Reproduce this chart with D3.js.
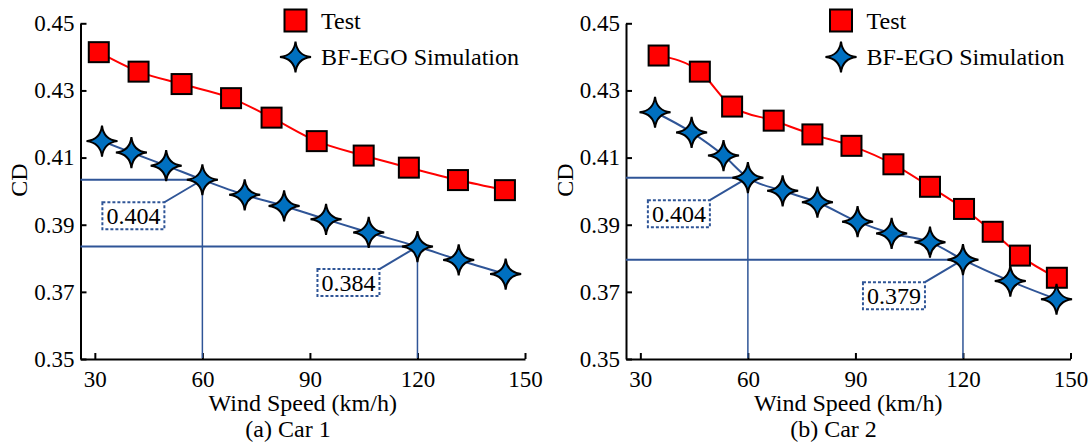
<!DOCTYPE html>
<html>
<head>
<meta charset="utf-8">
<script src="https://cdn.jsdelivr.net/npm/d3@7"></script>
<style>
  html, body { margin: 0; padding: 0; background: #fff; }
  svg { display: block; }
</style>
</head>
<body>
<svg id="chart" width="1090" height="444"></svg>
<script>
// ---------------- data ----------------
const xTicks = [30, 60, 90, 120, 150];
const yTicks = [0.35, 0.37, 0.39, 0.41, 0.43, 0.45];
const legendLabels = ["Test", "BF-EGO Simulation"];
const xTitle = "Wind Speed (km/h)";
const yTitle = "CD";
const panelTitles = ["(a) Car 1", "(b) Car 2"];

const speedTest1 = [31.1, 42.2, 54.2, 68.0, 79.3, 91.9, 105.0, 117.6, 131.3, 144.4];
const cdTest1    = [0.4414, 0.4356, 0.4319, 0.4277, 0.4219, 0.4149, 0.4106, 0.4070, 0.4033, 0.4003];
const speedSim1  = [32.0, 40.2, 49.9, 60, 71.8, 82.8, 94.5, 106.4, 120, 131.5, 144.6];
const cdSim1     = [0.4149, 0.4115, 0.4076, 0.4034, 0.3989, 0.3956, 0.3916, 0.3877, 0.3835, 0.3795, 0.3753];

const speedTest2 = [35.1, 46.6, 55.6, 67.2, 78.0, 88.9, 100.6, 110.8, 120.3, 128.3, 135.9, 146.2];
const cdTest2    = [0.4404, 0.4356, 0.4252, 0.4210, 0.4169, 0.4135, 0.4080, 0.4013, 0.3947, 0.3879, 0.3808, 0.3742];
const speedSim2  = [34.1, 44.3, 53.2, 60, 69.7, 79.4, 90.6, 100.1, 110.8, 120, 133.2, 146.1];
const cdSim2     = [0.4235, 0.4175, 0.4106, 0.4040, 0.4001, 0.3967, 0.3909, 0.3874, 0.3848, 0.3796, 0.3732, 0.3678];

const markSpeeds1 = [60, 120];
const markLabels1 = ["0.404", "0.384"];
const markSpeeds2 = [60, 120];
const markLabels2 = ["0.404", "0.379"];

// ---------------- layout ----------------
const FONT = "'Liberation Serif', 'Times New Roman', Times, 'Nimbus Roman', 'DejaVu Serif', serif";
const svg = d3.select("#chart").style("font-family", FONT);
const panelOffsets = [0, 545.5];
const plotLeft = 80.5, plotRight = 525, plotTop = 23.3, plotBottom = 359;
const red = "#FF0000", blueFill = "#0070C0", blueLine = "#2F5597";
const fs = 24, tickFs = 23;

const x = d3.scaleLinear().domain([26, 150]).range([plotLeft, plotRight]);
const y = d3.scaleLinear().domain([0.35, 0.45]).range([plotBottom, plotTop]);

function starPath(R) {
  const c = 0.1 * R;
  return `M0,${-R} Q${c},${-c} ${R},0 Q${c},${c} 0,${R} Q${-c},${c} ${-R},0 Q${-c},${-c} 0,${-R} Z`;
}
const STAR = starPath(15.5);
const SQ = 20;

function txt(sel) {
  return sel.append("text").style("font-family", FONT).attr("fill", "#000");
}

const panels = [
  { test: [speedTest1, cdTest1], sim: [speedSim1, cdSim1], marks: [markSpeeds1, markLabels1], title: panelTitles[0] },
  { test: [speedTest2, cdTest2], sim: [speedSim2, cdSim2], marks: [markSpeeds2, markLabels2], title: panelTitles[1] }
];

panels.forEach((p, i) => {
  const g = svg.append("g").attr("transform", `translate(${panelOffsets[i]},0)`);

  const testPts = p.test[0].map((s, k) => [s, p.test[1][k]]);
  const simPts = p.sim[0].map((s, k) => [s, p.sim[1][k]]);

  // axes
  const xAxis = d3.axisBottom(x).tickValues(xTicks).tickSizeInner(-6).tickSizeOuter(0).tickPadding(12);
  const yAxis = d3.axisLeft(y).tickValues(yTicks).tickFormat(d3.format(".2f")).tickSizeInner(-6).tickSizeOuter(0).tickPadding(6);

  const gx = g.append("g").attr("transform", `translate(0,${plotBottom})`).call(xAxis);
  const gy = g.append("g").attr("transform", `translate(${plotLeft},0)`).call(yAxis);
  [gx, gy].forEach(a => {
    a.attr("font-family", null);
    a.select(".domain").attr("stroke", "#000").attr("stroke-width", 2);
    a.selectAll(".tick line").attr("stroke", "#000").attr("stroke-width", 2);
    a.selectAll(".tick text").attr("font-size", tickFs).style("font-family", FONT).attr("fill", "#000");
  });

  const line = d3.line().x(d => x(d[0])).y(d => y(d[1])).curve(d3.curveMonotoneX);

  // guides and annotation boxes
  const lookup = s => simPts.find(d => d[0] === s);
  p.marks[0].forEach((s, k) => {
    const pt = lookup(s);
    const px = x(pt[0]), py = y(pt[1]);
    g.append("line").attr("x1", plotLeft).attr("x2", px).attr("y1", py).attr("y2", py)
      .attr("stroke", blueLine).attr("stroke-width", 2);
    g.append("line").attr("x1", px).attr("x2", px).attr("y1", py).attr("y2", plotBottom - 1)
      .attr("stroke", blueLine).attr("stroke-width", 1.5);
    const bw = 62, bh = 27;
    const bx = px - 38 - bw, by = py + 22.5;
    g.append("line").attr("x1", bx + bw).attr("y1", by).attr("x2", px).attr("y2", py)
      .attr("stroke", blueLine).attr("stroke-width", 2);
    g.append("rect").attr("x", bx).attr("y", by).attr("width", bw).attr("height", bh)
      .attr("fill", "#fff").attr("stroke", blueLine).attr("stroke-width", 2).attr("stroke-dasharray", "3,2");
    txt(g).attr("x", bx + bw / 2).attr("y", by + bh / 2 + 8).attr("text-anchor", "middle")
      .attr("font-size", fs).text(p.marks[1][k]);
  });

  // test series
  g.append("path").datum(testPts).attr("d", line).attr("fill", "none").attr("stroke", red).attr("stroke-width", 2);
  g.selectAll("rect.sq").data(testPts).enter().append("rect").attr("class", "sq")
    .attr("x", d => x(d[0]) - SQ / 2).attr("y", d => y(d[1]) - SQ / 2)
    .attr("width", SQ).attr("height", SQ).attr("fill", red).attr("stroke", "#000").attr("stroke-width", 2);

  // sim series
  g.append("path").datum(simPts).attr("d", line).attr("fill", "none").attr("stroke", blueLine).attr("stroke-width", 2);
  g.selectAll("path.star").data(simPts).enter().append("path").attr("class", "star")
    .attr("d", STAR).attr("transform", d => `translate(${x(d[0])},${y(d[1])})`)
    .attr("fill", blueFill).attr("stroke", "#000").attr("stroke-width", 2);

  // legend
  const lgx = 295.5;
  g.append("rect").attr("x", lgx - 11).attr("y", 20.5 - 11).attr("width", 22).attr("height", 22)
    .attr("fill", red).attr("stroke", "#000").attr("stroke-width", 2);
  txt(g).attr("x", 321).attr("y", 28.5).attr("font-size", fs).text(legendLabels[0]);
  g.append("path").attr("d", STAR).attr("transform", `translate(${lgx},57)`)
    .attr("fill", blueFill).attr("stroke", "#000").attr("stroke-width", 2);
  txt(g).attr("x", 321).attr("y", 65).attr("font-size", fs).text(legendLabels[1]);

  // titles
  txt(g).attr("x", (plotLeft + plotRight) / 2).attr("y", 411).attr("text-anchor", "middle")
    .attr("font-size", fs).text(xTitle);
  txt(g).attr("x", 288).attr("y", 437).attr("text-anchor", "middle")
    .attr("font-size", fs).text(p.title);
  txt(g).attr("transform", `translate(27,180) rotate(-90)`).attr("text-anchor", "middle")
    .attr("font-size", fs).text(yTitle);
});
</script>
</body>
</html>
